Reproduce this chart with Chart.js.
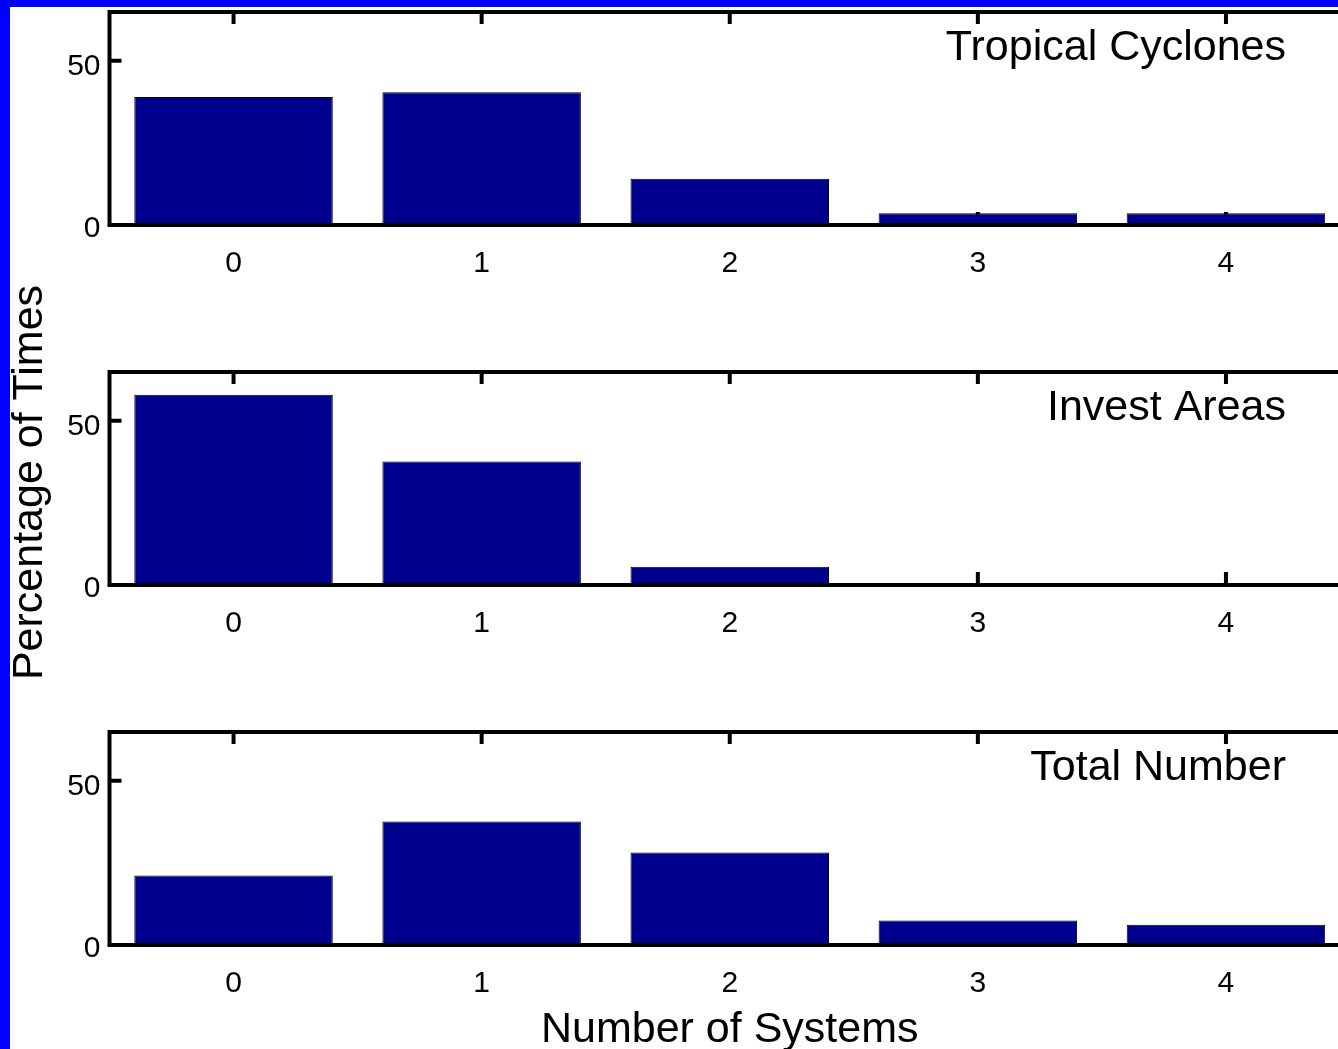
<!DOCTYPE html>
<html>
<head>
<meta charset="utf-8">
<script src="https://cdn.jsdelivr.net/npm/chart.js@4.4.1/dist/chart.umd.min.js"></script>
<style>
  html, body { margin: 0; padding: 0; width: 1338px; height: 1049px; overflow: hidden; background: #ffffff; }
  .panel { position: absolute; left: 0; top: 0; width: 1400px; height: 1080px; }
  #edgeTop { position: absolute; left: 0; top: 0; width: 1338px; height: 7px; background: #0000ff; z-index: 5; }
  #edgeLeft { position: absolute; left: 0; top: 0; width: 10px; height: 1049px; background: #0000ff; z-index: 5; }
</style>
</head>
<body>
<div class="panel"><canvas id="c0" width="1400" height="1080"></canvas></div>
<div class="panel"><canvas id="c1" width="1400" height="1080"></canvas></div>
<div class="panel"><canvas id="c2" width="1400" height="1080"></canvas></div>
<div id="edgeTop"></div>
<div id="edgeLeft"></div>
<script>
// Number of systems present at once
const categories = ['0', '1', '2', '3', '4'];

// Percentage of times for each count
const tropicalCyclones = [38.8, 40.3, 13.6, 3.0, 3.0];
const investAreas      = [58.0, 37.4, 5.0, 0, 0];
const totalNumber      = [20.8, 37.4, 27.9, 6.9, 5.6];

const panelTitles = ['Tropical Cyclones', 'Invest Areas', 'Total Number'];
const yTickValues = [0, 50];
const yMax = 65;

const xAxisTitle = 'Number of Systems';
const yAxisTitle = 'Percentage of Times';

const FONT = '"Liberation Sans", Arial, Helvetica, sans-serif';
const BAR_FILL = 'rgb(0,0,143)';
const PANEL_STEP = 360;   // vertical distance between stacked axes
const CANVAS_H = 1080;

// Inward tick marks, drawn beneath the bars
const tickPlugin = {
  id: 'innerTicks',
  beforeDatasetsDraw(chart) {
    const { ctx, chartArea: a, scales: { x, y } } = chart;
    const bottom = a.bottom + 2;
    ctx.save();
    ctx.strokeStyle = '#000';
    ctx.lineWidth = 4;
    ctx.beginPath();
    categories.forEach((c, i) => {
      const px = x.getPixelForValue(i);
      ctx.moveTo(px, a.top); ctx.lineTo(px, a.top + 12);
      ctx.moveTo(px, bottom); ctx.lineTo(px, bottom - 13);
    });
    yTickValues.forEach(v => {
      const py = v === 0 ? bottom : y.getPixelForValue(v);
      ctx.moveTo(a.left, py); ctx.lineTo(a.left + 12, py);
      ctx.moveTo(a.right, py); ctx.lineTo(a.right - 12, py);
    });
    ctx.stroke();
    ctx.restore();
  }
};

// Box around each axes, drawn over the bars
const boxPlugin = {
  id: 'axesBox',
  afterDatasetsDraw(chart) {
    const { ctx, chartArea: a } = chart;
    const bottom = a.bottom + 2;
    ctx.save();
    ctx.strokeStyle = '#000';
    ctx.lineWidth = 4;
    ctx.beginPath();
    ctx.moveTo(a.left, a.top); ctx.lineTo(a.right, a.top);
    ctx.moveTo(a.left, a.top - 2); ctx.lineTo(a.left, bottom + 2);
    ctx.moveTo(a.left - 2, bottom); ctx.lineTo(a.right, bottom);
    ctx.moveTo(a.right, a.top); ctx.lineTo(a.right, bottom);
    ctx.stroke();
    ctx.restore();
  }
};

// Panel caption in the upper right of each axes, plus the shared side label
const captionPlugin = {
  id: 'panelCaption',
  afterDraw(chart) {
    const { ctx, chartArea: a } = chart;
    const opts = chart.options.plugins.panelCaption;
    ctx.save();
    ctx.font = '43px ' + FONT;
    ctx.fillStyle = '#000';
    ctx.textAlign = 'right';
    ctx.textBaseline = 'middle';
    ctx.fillText(opts.text, a.right - 64, a.top + 36);
    if (opts.sideLabel) {
      ctx.translate(30, (a.top + a.bottom) / 2 + 5);
      ctx.rotate(-Math.PI / 2);
      ctx.textAlign = 'center';
      ctx.fillText(opts.sideLabel, 0, 0);
    }
    ctx.restore();
  }
};

function makePanel(id, index, values, caption, showXTitle, sideLabel) {
  const topPad = 12 + PANEL_STEP * index;
  const bottomPad = CANVAS_H - PANEL_STEP * (index + 1);
  return new Chart(document.getElementById(id), {
    type: 'bar',
    data: {
      labels: categories,
      datasets: [{
        data: values,
        backgroundColor: BAR_FILL,
        borderColor: '#000',
        borderWidth: 1,
        barPercentage: 0.8,
        categoryPercentage: 1.0
      }]
    },
    options: {
      responsive: false,
      animation: false,
      devicePixelRatio: 1,
      layout: { padding: { top: topPad, right: 50, bottom: bottomPad, left: 0 } },
      plugins: {
        legend: { display: false },
        tooltip: { enabled: false },
        panelCaption: { text: caption, sideLabel: sideLabel }
      },
      scales: {
        x: {
          offset: true,
          grid: { display: false, drawTicks: false },
          border: { display: false },
          ticks: { color: '#000', font: { family: FONT, size: 30 }, padding: 23, maxRotation: 0 },
          title: {
            display: showXTitle,
            text: xAxisTitle,
            color: '#000',
            font: { family: FONT, size: 43 },
            padding: { top: 0, bottom: 24 }
          },
          afterFit(s) { s.height = 137; s.paddingLeft = 0; s.paddingRight = 0; }
        },
        y: {
          min: 0,
          max: yMax,
          grid: { display: false, drawTicks: false },
          border: { display: false },
          afterBuildTicks(s) { s.ticks = yTickValues.map(v => ({ value: v })); },
          ticks: { color: '#000', font: { family: FONT, size: 30 }, padding: 9, labelOffset: 6 },
          afterFit(s) { s.width = 109.5; s.paddingTop = 0; s.paddingBottom = 0; }
        }
      }
    },
    plugins: [tickPlugin, boxPlugin, captionPlugin]
  });
}

makePanel('c0', 0, tropicalCyclones, panelTitles[0], false, null);
makePanel('c1', 1, investAreas, panelTitles[1], false, yAxisTitle);
makePanel('c2', 2, totalNumber, panelTitles[2], true, null);
</script>
</body>
</html>
